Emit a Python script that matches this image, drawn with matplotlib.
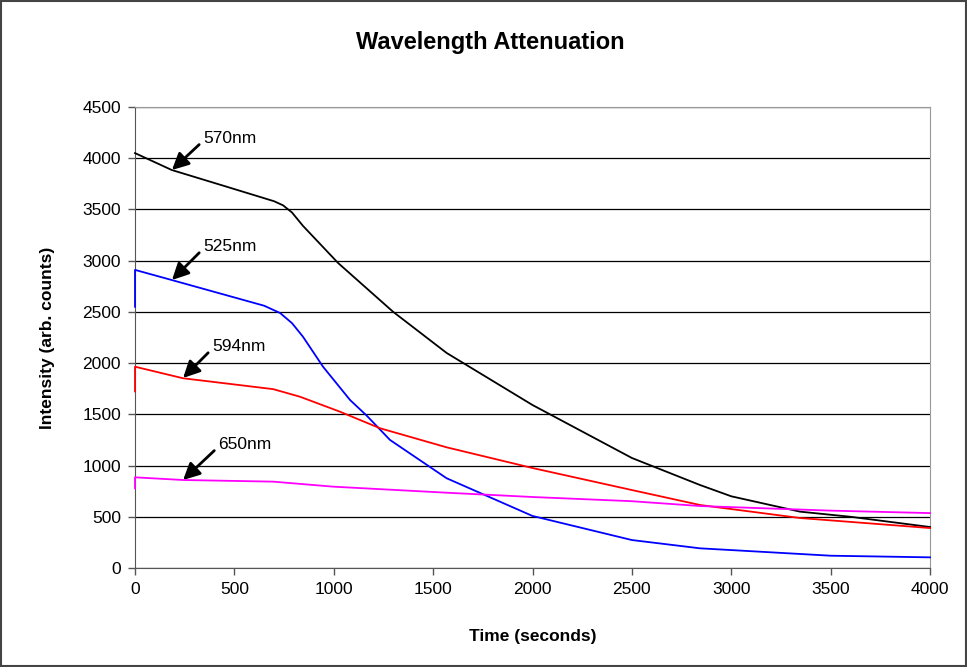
import matplotlib.pyplot as plt
from matplotlib.patches import Rectangle

plt.rcParams['font.family'] = ['Liberation Sans', 'DejaVu Sans']

# 读出的数据 (时间 秒, 强度)
t_570 = [0, 185, 461, 700, 745, 790, 845, 1022, 1298, 1568, 2000, 2500, 2843, 3000, 3346, 3600, 4000]
i_570 = [4050, 3885, 3722, 3580, 3540, 3470, 3340, 2977, 2502, 2099, 1591, 1074, 810, 700, 550, 500, 400]

t_525 = [0, 0, 185, 650, 730, 790, 845, 946, 1082, 1166, 1283, 1568, 2000, 2500, 2843, 3000, 3500, 4000]
i_525 = [2550, 2910, 2811, 2560, 2489, 2390, 2258, 1965, 1640, 1487, 1250, 876, 508, 273, 192, 175, 120, 104]

t_594 = [0, 0, 242, 695, 830, 1031, 1233, 1568, 2000, 2500, 2843, 3346, 4000]
i_594 = [1724, 1965, 1852, 1746, 1672, 1526, 1364, 1178, 976, 761, 615, 488, 390]

t_650 = [0, 0, 242, 695, 997, 1568, 2000, 2500, 2843, 3500, 4000]
i_650 = [778, 885, 859, 843, 794, 735, 693, 652, 605, 560, 536]

labels = ['570nm', '525nm', '594nm', '650nm']
# 箭头: 文字位置, 箭头尖端
text_xy = [(342, 4197), (342, 3143), (387, 2167), (418, 1210)]
tip_xy = [(186, 3885), (186, 2811), (242, 1855), (242, 859)]

fig = plt.figure(figsize=(9.67, 6.67), dpi=100)
ax = fig.add_axes([135 / 967, 1 - 568 / 667, 795 / 967, 461 / 667])

for tt, ii, c in [(t_570, i_570, 'black'), (t_525, i_525, '#0000ff'),
                  (t_594, i_594, '#ff0000'), (t_650, i_650, '#ff00ff')]:
    ax.plot(tt, ii, color=c, lw=1.3, clip_on=False, zorder=5)

for lab, (tx, ty), (px, py) in zip(labels, text_xy, tip_xy):
    ax.annotate(lab, xy=(px, py), xytext=(tx, ty), fontsize=12.5, va='center', ha='left',
                arrowprops=dict(arrowstyle='-|>,head_width=0.4,head_length=0.8',
                                color='black', lw=2, shrinkA=1, shrinkB=0, relpos=(0, 0.3)))

ax.set_xlim(0, 4000)
ax.set_ylim(0, 4500)
ax.set_xticks(range(0, 4001, 500))
ax.set_yticks(range(0, 4501, 500))
ax.grid(True, axis='y', color='black', lw=0.9)
ax.set_axisbelow(True)
ax.tick_params(direction='out', length=5, width=1, color='#555555', labelsize=12.5, pad=5)
for s in ['left', 'bottom']:
    ax.spines[s].set_color('#555555')
for s in ['top', 'right']:
    ax.spines[s].set_color('#999999')

ax.set_xlabel('Time (seconds)', fontsize=12.5, fontweight='bold', labelpad=23)
ax.set_ylabel('Intensity (arb. counts)', fontsize=12.5, fontweight='bold', labelpad=20)
fig.text(490 / 967, 1 - 42 / 667, 'Wavelength Attenuation', fontsize=17, fontweight='bold',
         ha='center', va='center')

fig.patches.append(Rectangle((0.001, 0.001), 0.998, 0.997, transform=fig.transFigure,
                             fill=False, edgecolor='#444444', lw=1.5))

fig.savefig('out.png', dpi=100)
